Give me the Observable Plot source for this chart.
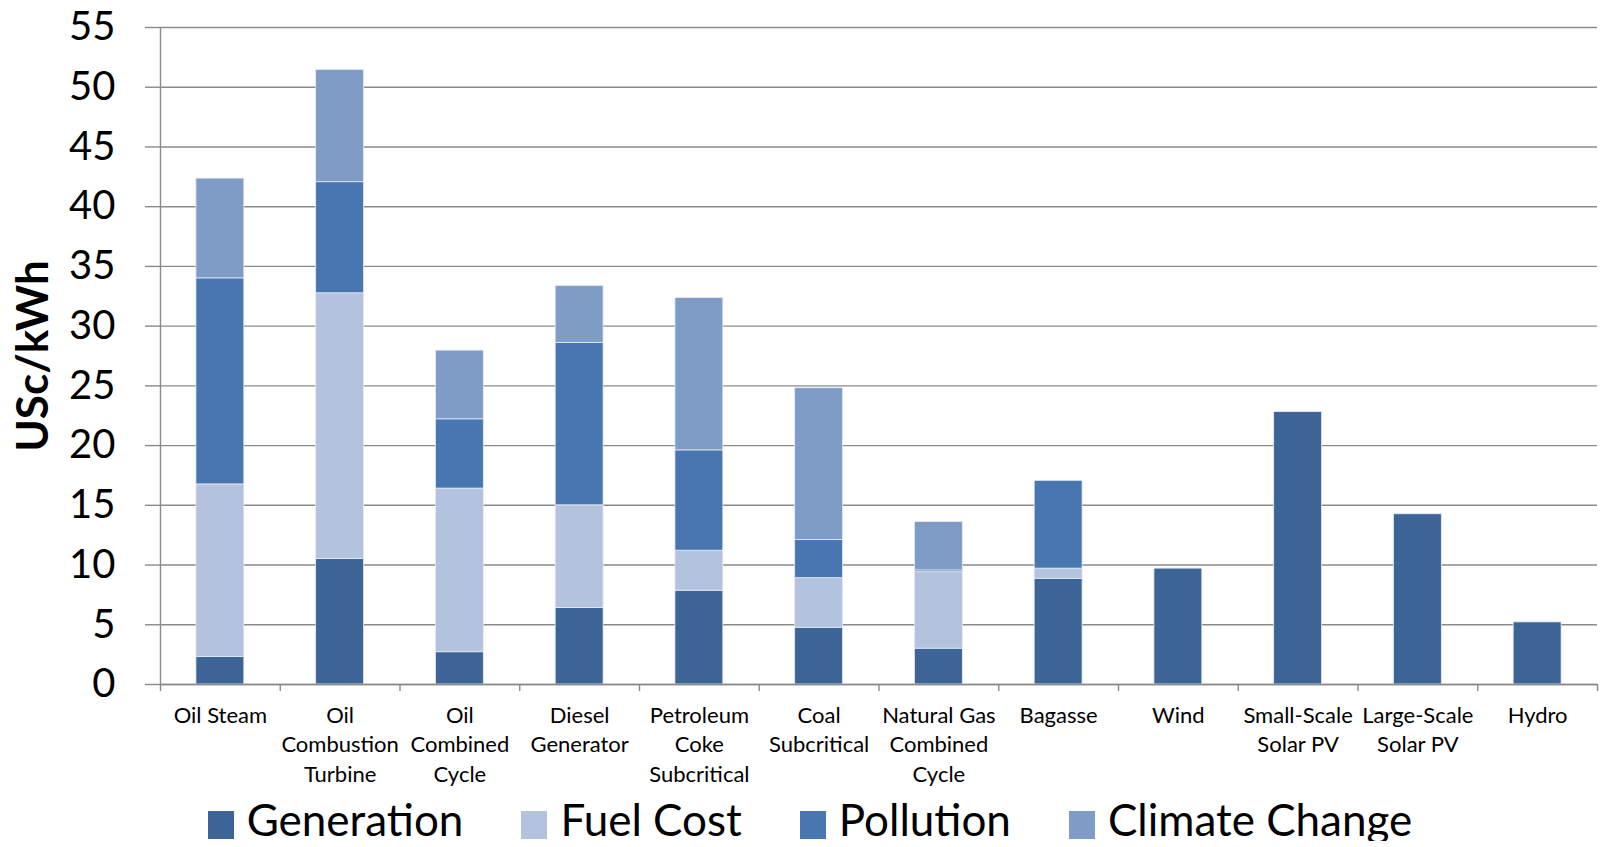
<!DOCTYPE html>
<html>
<head>
<meta charset="utf-8">
<script src="https://cdn.jsdelivr.net/npm/d3@7"></script>
<script src="https://cdn.jsdelivr.net/npm/@observablehq/plot@0.6"></script>
<style>
  html, body { margin: 0; padding: 0; background: #fff; overflow: hidden; }
  #chart svg { display: block; }
  .legend {
    display: flex; justify-content: center; align-items: center;
    font-family: Lato, "Open Sans", sans-serif; font-size: 44px; line-height: 1; color: #000;
    height: 44px; padding-top: 2px; padding-left: 20px; gap: 58px;
  }
  .legend .item { display: flex; align-items: center; gap: 13px; }
  .legend .sw { width: 26px; height: 28px; display: inline-block; position: relative; top: 6px; }
</style>
</head>
<body>
<div id="chart"></div>
<script>
// Technology categories (x axis labels, line breaks as drawn)
const categories = [
  "Oil Steam", "Oil\nCombustion\nTurbine", "Oil\nCombined\nCycle", "Diesel\nGenerator",
  "Petroleum\nCoke\nSubcritical", "Coal\nSubcritical", "Natural Gas\nCombined\nCycle",
  "Bagasse", "Wind", "Small-Scale\nSolar PV", "Large-Scale\nSolar PV", "Hydro"
];

// Cost components, US cents per kWh
const generation    = [2.3, 10.5, 2.7, 6.4, 7.85, 4.75, 3.0, 8.85, 9.7, 22.8, 14.25, 5.2];
const fuelCost      = [14.45, 22.25, 13.7, 8.6, 3.35, 4.15, 6.4, 0.85, 0, 0, 0, 0];
const pollution     = [17.25, 9.3, 5.8, 13.6, 8.4, 3.2, 0.15, 7.35, 0, 0, 0, 0];
const climateChange = [8.35, 9.4, 5.75, 4.75, 12.75, 12.7, 4.05, 0, 0, 0, 0, 0];

const seriesNames = ["Generation", "Fuel Cost", "Pollution", "Climate Change"];
const seriesColors = ["#3c6496", "#b4c3dd", "#4876b0", "#7f9cc7"];
const yTicks = d3.range(0, 56, 5);

// Long table: one row per category and component, bottom component first
const seriesValues = [generation, fuelCost, pollution, climateChange];
const rows = [];
seriesNames.forEach((name, s) => {
  seriesValues[s].forEach((v, i) => {
    if (v > 0) rows.push({index: i, component: name, value: v});
  });
});

const font = "Lato, 'Open Sans', sans-serif";
const grey = "#8a8a8a";

const chart = Plot.plot({
  width: 1600,
  height: 795,
  marginTop: 27,
  marginBottom: 111,
  marginLeft: 160,
  marginRight: 3,
  style: {fontFamily: font, color: "#000", background: "#fff"},
  x: {type: "linear", domain: [0, categories.length], axis: null},
  y: {domain: [0, 55], axis: null},
  color: {domain: seriesNames, range: seriesColors},
  marks: [
    Plot.gridY(yTicks, {stroke: grey, strokeOpacity: 1, strokeWidth: 1.4}),
    Plot.axisY({
      ticks: yTicks, tickSize: 15, tickPadding: 30, fontSize: 40,
      stroke: grey, strokeWidth: 1.4, label: null
    }),
    Plot.text(["USc/kWh"], {
      frameAnchor: "left", textAnchor: "middle", dx: -127, rotate: -90, text: d => d,
      fontSize: 44, fontWeight: "bold", fill: "#000"
    }),
    Plot.rectY(rows, Plot.stackY({
      x1: d => d.index + 0.3,
      x2: d => d.index + 0.7,
      y: "value",
      fill: "component",
      stroke: "#e4eaf3",
      strokeWidth: 0.8
    })),
    Plot.ruleX([0], {stroke: grey, strokeWidth: 1.4}),
    Plot.ruleY([0], {stroke: grey, strokeWidth: 1.4}),
    Plot.axisX({
      ticks: d3.range(0, categories.length + 1), tickFormat: () => "",
      tickSize: 7, stroke: grey, strokeWidth: 1.4, label: null
    }),
    Plot.text(categories, {
      x: (d, i) => i + 0.5, y: 0, text: d => d,
      lineAnchor: "top", dy: 17, fontSize: 22, lineHeight: 1.35, fill: "#000"
    })
  ]
});

document.getElementById("chart").appendChild(chart);

// Legend below the chart
const legend = document.createElement("div");
legend.className = "legend";
seriesNames.forEach((name, i) => {
  const item = document.createElement("span");
  item.className = "item";
  const sw = document.createElement("span");
  sw.className = "sw";
  sw.style.background = seriesColors[i];
  const label = document.createElement("span");
  label.textContent = name;
  item.appendChild(sw);
  item.appendChild(label);
  legend.appendChild(item);
});
document.body.appendChild(legend);
</script>
</body>
</html>
